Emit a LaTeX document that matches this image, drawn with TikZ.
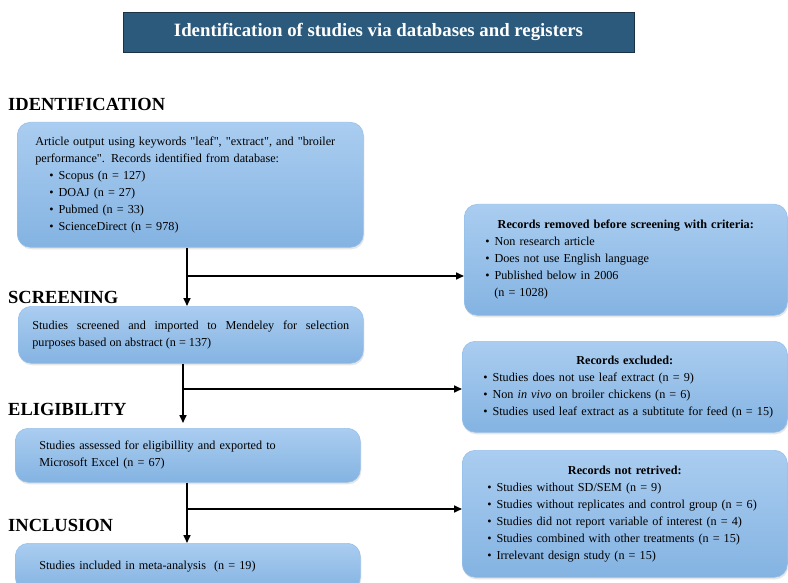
\documentclass[tikz,border=0pt]{standalone}
\usepackage{fontspec}
\setmainfont{Liberation Serif}
\usetikzlibrary{arrows.meta,shadows}

\definecolor{titleblue}{RGB}{44,90,124}
\definecolor{titleedge}{RGB}{25,50,70}
\definecolor{boxtop}{RGB}{170,205,240}
\definecolor{boxbot}{RGB}{132,179,226}
\definecolor{boxedge}{RGB}{150,192,234}
\newcommand{\itm}{\textbullet\hspace{5pt}}
\newcommand{\qt}{\textquotedbl}

\begin{document}
\begin{tikzpicture}[x=1pt, y=-1pt, font=\fontsize{12.2}{17}\selectfont]
    \tikzset{flowbox/.style={draw=boxedge, line width=0.6pt, rounded corners=13pt,
        top color=boxtop, bottom color=boxbot, anchor=north west, align=left,
        drop shadow={opacity=0.2, shadow xshift=1pt, shadow yshift=-2pt}}}
    \tikzset{phase/.style={anchor=base west, inner sep=0pt, font=\fontsize{18.5}{20}\selectfont\bfseries}}
    \tikzset{flow/.style={line width=1.6pt, -{Triangle[length=8pt,width=7pt]}}}
    \useasboundingbox (0,0) rectangle (788,583);
    \clip (0,0) rectangle (788,583);

    % Title banner
    \node[draw=titleedge, fill=titleblue, text=white, minimum width=511pt, minimum height=40pt,
        font=\fontsize{18.8}{20}\selectfont\bfseries] (title) at (378.5,32)
        {Identification of studies via databases and registers};

    % Phase headings on the left
    \node[phase] (identhead) at (8,111) {IDENTIFICATION};
    \node[phase] (screenhead) at (8,303) {SCREENING};
    \node[phase] (elighead) at (8,415) {ELIGIBILITY};
    \node[phase] (inclhead) at (8,531) {INCLUSION};

    % Main column of boxes
    \node[flowbox, minimum width=346pt, minimum height=125pt, text width=310pt, inner xsep=18pt]
        (identbox) at (17,122)
        {Article output using keywords \qt leaf\qt, \qt extract\qt, and \qt broiler\\
         performance\qt. Records identified from database:\\
         \hspace*{14pt}\itm Scopus (n = 127)\\
         \hspace*{14pt}\itm DOAJ (n = 27)\\
         \hspace*{14pt}\itm Pubmed (n = 33)\\
         \hspace*{14pt}\itm ScienceDirect (n = 978)};
    \node[flowbox, minimum width=345pt, minimum height=57pt, text width=317pt, inner xsep=14pt,
        align=justify] (screenbox) at (18,306)
        {Studies screened and imported to Mendeley for selection\linebreak
         purposes based on abstract (n = 137)};
    \node[flowbox, minimum width=345pt, minimum height=54pt, text width=297pt, inner xsep=24pt]
        (eligbox) at (15,428)
        {\parbox{264pt}{Studies assessed for eligibillity and exported to\linebreak
         Microsoft Excel (n = 67)}};
    \node[flowbox, minimum width=345pt, minimum height=47pt, text width=297pt, inner xsep=24pt]
        (inclbox) at (15,543)
        {Studies included in meta-analysis~ (n = 19)};

    % Side boxes on the right
    \node[flowbox, minimum width=323pt, minimum height=111pt, text width=299pt, inner xsep=12pt]
        (removedbox) at (464,204)
        {\makebox[\hsize]{\bfseries Records removed before screening with criteria:}\\
         \hspace*{9pt}\itm Non research article\\
         \hspace*{9pt}\itm Does not use English language\\
         \hspace*{9pt}\itm Published below in 2006\\
         \hspace*{18pt}(n = 1028)};
    \node[flowbox, minimum width=325pt, minimum height=91pt, text width=301pt, inner xsep=12pt]
        (excludedbox) at (462,341)
        {\makebox[\hsize]{\bfseries Records excluded:}\\
         \hspace*{9pt}\itm Studies does not use leaf extract (n = 9)\\
         \hspace*{9pt}\itm Non \textit{in vivo} on broiler chickens (n = 6)\\
         \hspace*{9pt}\itm Studies used leaf extract as a subtitute for feed (n = 15)};
    \node[flowbox, minimum width=325pt, minimum height=127pt, text width=301pt, inner xsep=12pt]
        (retrievebox) at (462,450)
        {\makebox[\hsize]{\bfseries Records not retrived:}\\
         \hspace*{13pt}\itm Studies without SD/SEM (n = 9)\\
         \hspace*{13pt}\itm Studies without replicates and control group (n = 6)\\
         \hspace*{13pt}\itm Studies did not report variable of interest (n = 4)\\
         \hspace*{13pt}\itm Studies combined with other treatments (n = 15)\\
         \hspace*{13pt}\itm Irrelevant design study (n = 15)};

    % Split points of the flow
    \coordinate (split1) at (187,276);
    \coordinate (split2) at (183,389);
    \coordinate (split3) at (187,509);

    % Connectors
    \draw[flow] (identbox.south -| split1) -- (screenbox.north -| split1);
    \draw[flow] (split1) -- (removedbox.west |- split1);
    \draw[flow, shorten >=5pt] (screenbox.south -| split2) -- (eligbox.north -| split2);
    \draw[flow] (split2) -- (excludedbox.west |- split2);
    \draw[flow] (eligbox.south -| split3) -- (inclbox.north -| split3);
    \draw[flow] (split3) -- (retrievebox.west |- split3);
\end{tikzpicture}
\end{document}
